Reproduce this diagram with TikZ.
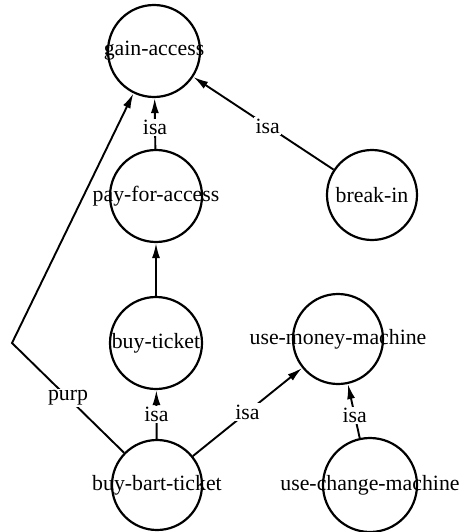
\documentclass[tikz,border=0pt]{standalone}
\usepackage{fontspec}
\setmainfont{Liberation Serif}
\usetikzlibrary{arrows.meta}
\begin{document}
\begin{tikzpicture}[x=1pt,y=-1pt,
  concept/.style={circle,draw,line width=2.2pt,minimum size=#1,inner sep=0pt,
    font=\fontsize{21.8}{25}\selectfont},
  concept/.default=92pt,
  link/.style={line width=1.9pt,-{Latex[length=15pt,width=8pt]}},
  tag/.style={fill=white,inner sep=1.5pt,font=\fontsize{21.8}{25}\selectfont}]
\useasboundingbox (0,0) rectangle (468,532);

% concept nodes
\node[concept] (ga)  at (154,51)  {\makebox[0pt]{gain-access}};
\node[concept] (pfa) at (156,196) {\makebox[0pt]{pay-for-access}};
\node[concept] (bt)  at (156,343) {\makebox[0pt]{buy-ticket}};
\node[concept=90pt] (bbt) at (157,485) {\makebox[0pt]{buy-bart-ticket}};
\node[concept=90pt] (umm) at (338,339) {\makebox[0pt]{use-money-machine}};
\node[concept=94pt] (ucm) at (370,485) {\makebox[0pt]{use-change-machine}};
\node[concept=90pt] (bi)  at (372,195) {\makebox[0pt]{break-in}};

\coordinate (bend) at (12,343);

% relations
\draw[link] (pfa) -- node[tag,pos=0.42] {isa} (ga);
\draw[link] (bi) -- node[tag,pos=0.47] {isa} (ga);
\draw[link] (bt) -- (pfa);
\draw[link] (bbt) -- node[tag,pos=0.5] {isa} (bt);
\draw[link] (bbt) -- node[tag,pos=0.5] {isa} (umm);
\draw[link] (ucm) -- node[tag,pos=0.42] {isa} (umm);
\draw[link] (bbt) -- node[tag,pos=0.5] {purp} (bend) -- (ga);
\end{tikzpicture}
\end{document}
